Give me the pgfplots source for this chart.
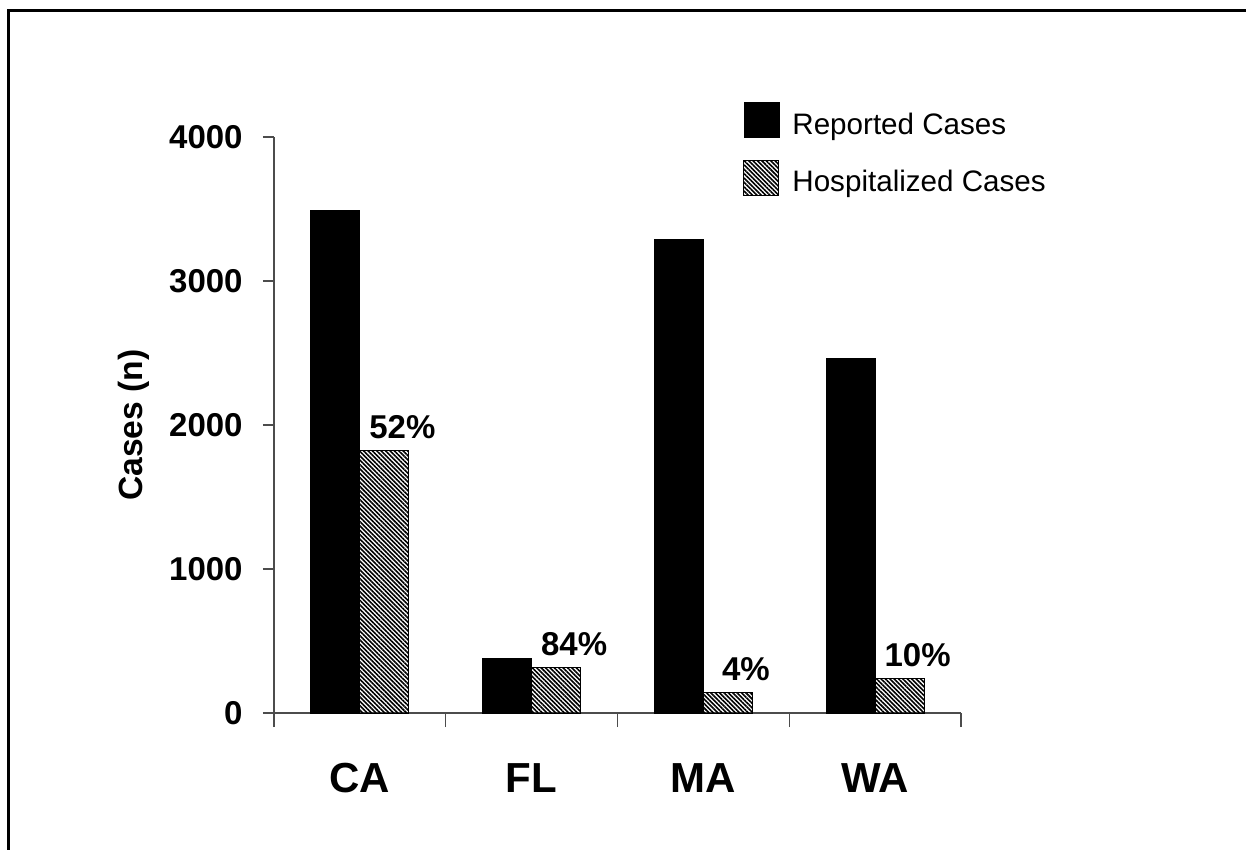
\documentclass[border=0pt]{standalone}
\usepackage{fontspec}
\setmainfont{Liberation Sans}
\usepackage{pgfplots}
\pgfplotsset{compat=1.18}
\usetikzlibrary{patterns.meta}

\tikzset{
  hatch/.style={pattern={Lines[angle=-45, distance=1.55pt, line width=0.8pt]}, pattern color=black},
}

\begin{document}
\begin{tikzpicture}
\begin{axis}[
    scale only axis,
    width=343.5pt, height=288pt,
    ybar=0pt, bar width=24.5pt,
    xmin=0.5, xmax=4.5,
    ymin=0, ymax=4000,
    axis lines=left,
    axis line style={-, draw=black!70, line width=0.6pt},
    tick align=outside,
    tick style={draw=black!70, line width=0.6pt},
    major tick length=5.5pt,
    minor tick length=7pt,
    xtick={1,2,3,4},
    xticklabels={CA,FL,MA,WA},
    minor xtick={0.5,1.5,2.5,3.5,4.5},
    major x tick style={draw=none},
    ytick={0,1000,2000,3000,4000},
    /pgf/number format/assume math mode=true,
    /pgf/number format/1000 sep={},
    xticklabel style={font=\bfseries\fontsize{21}{24}\selectfont, anchor=base, yshift=-34pt},
    yticklabel style={font=\bfseries\fontsize{16.5}{19}\selectfont, anchor=east, inner sep=0pt, xshift=-10pt},
    ylabel={Cases (n)},
    ylabel style={font=\bfseries\fontsize{16.8}{19}\selectfont, at={(axis description cs:-0.1907,0.5)}, anchor=base, rotate=0},
    every axis plot post/.append style={
        legend image code/.code={\draw[#1] (0pt,-6.5pt) rectangle (17.5pt,11pt);}},
    legend style={at={(rel axis cs:0.6827,1.0607)}, anchor=north west, draw=none, fill=none,
        inner sep=0pt, row sep=9.5pt, column sep=4.5pt,
        font=\fontsize{14.8}{17}\selectfont},
    legend cell align=left,
]

\addplot[fill=black, draw=black] coordinates {
    (1,3490) (2,380) (3,3290) (4,2460)
};
\addlegendentry{Reported Cases}

\addplot[hatch, draw=black, line width=0.5pt,
    point meta=explicit symbolic,
    nodes near coords,
    nodes near coords style={anchor=base, xshift=9pt, yshift=6pt,
        font=\bfseries\fontsize{16.5}{19}\selectfont, text=black}]
coordinates {
    (1,1820) [52\%]
    (2,315) [84\%]
    (3,145) [4\%]
    (4,243) [10\%]
};
\addlegendentry{Hospitalized Cases}

\end{axis}
\draw[line width=1.5pt] (-132.5pt,-80pt) -- (-132.5pt,351pt) -- (486pt,351pt);
\pgfresetboundingbox
\path[use as bounding box] (-137pt,-68.5pt) rectangle (486pt,356.5pt);
\end{tikzpicture}
\end{document}
